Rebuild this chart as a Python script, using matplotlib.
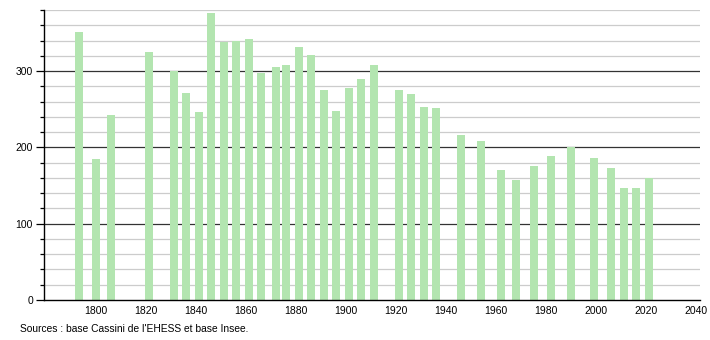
import matplotlib.pyplot as plt
from matplotlib.ticker import MultipleLocator

# Census years and population
years = [1793, 1800, 1806, 1821, 1831, 1836, 1841, 1846, 1851, 1856,
         1861, 1866, 1872, 1876, 1881, 1886, 1891, 1896, 1901, 1906,
         1911, 1921, 1926, 1931, 1936, 1946, 1954, 1962, 1968, 1975,
         1982, 1990, 1999, 2006, 2011, 2016, 2021]
population = [351, 185, 242, 325, 300, 271, 247, 376, 338, 340,
              342, 297, 305, 308, 332, 321, 275, 248, 278, 290,
              308, 275, 270, 253, 252, 216, 208, 170, 157, 175,
              189, 200, 186, 173, 147, 147, 160]
x_ticks = [1800, 1820, 1840, 1860, 1880, 1900, 1920, 1940, 1960, 1980, 2000, 2020, 2040]
y_ticks = [0, 100, 200, 300]
source = "Sources : base Cassini de l'EHESS et base Insee."

plt.rcParams['font.family'] = ['Liberation Sans', 'DejaVu Sans']

fig = plt.figure(figsize=(7.1, 3.4), dpi=100)
ax = fig.add_axes([44 / 710, 40 / 340, 656 / 710, 290 / 340])

# grid: light every 20, dark every 100
for v in range(20, 381, 20):
    if v % 100 == 0:
        ax.axhline(v, color='#333333', lw=0.9, zorder=1)
    else:
        ax.axhline(v, color='#cccccc', lw=0.9, zorder=1)

ax.bar(years, population, width=3.2, color='#b3e5b0', zorder=2)

ax.set_xlim(1779.2, 2041.6)
ax.set_ylim(0, 380)
ax.set_xticks(x_ticks)
ax.set_yticks(y_ticks)
ax.yaxis.set_minor_locator(MultipleLocator(20))
ax.tick_params(axis='x', length=0, labelsize=7.5, pad=4)
ax.tick_params(axis='y', which='major', length=6, width=0.9, labelsize=7.5, pad=2)
ax.tick_params(axis='y', which='minor', length=3, width=0.9)

for side in ['top', 'right']:
    ax.spines[side].set_visible(False)
ax.spines['left'].set_linewidth(1.0)
ax.spines['bottom'].set_linewidth(1.0)

fig.text(20 / 710, 1 - 329 / 340, source, fontsize=7.4, va='center', ha='left')

fig.savefig('out.png', dpi=100)
